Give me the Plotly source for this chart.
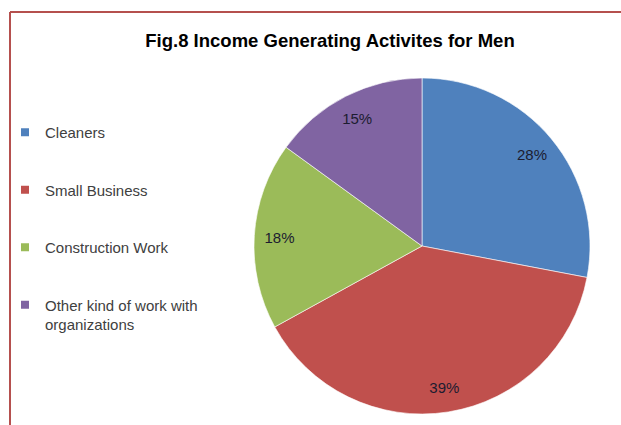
import plotly.graph_objects as go

# Income generating activities for men (percent shares)
categories = ["Cleaners", "Small Business", "Construction Work",
              "Other kind of work with organizations"]
legend_text = ["Cleaners", "Small Business", "Construction Work",
               "Other kind of work with<br>organizations"]
shares = [28, 39, 18, 15]
colors = ["#4F81BD", "#C0504D", "#9BBB59", "#8064A2"]

W, H = 621, 425
pie_domain = dict(x=[254 / W, 590 / W], y=[(H - 246 - 168) / H, (H - 246 + 168) / H])

fig = go.Figure()

# Filled pie slices
fig.add_trace(go.Pie(
    labels=categories,
    values=shares,
    sort=False,
    direction="clockwise",
    rotation=0,
    marker=dict(colors=colors, line=dict(color="rgba(255,255,255,0.6)", width=1)),
    textinfo="none",
    domain=pie_domain,
    showlegend=False,
    hoverinfo="label+percent",
))

# Transparent ring on top carrying the percentage labels near the rim
fig.add_trace(go.Pie(
    labels=categories,
    values=shares,
    sort=False,
    direction="clockwise",
    rotation=0,
    hole=0.7,
    marker=dict(colors=["rgba(0,0,0,0)"] * len(shares), line=dict(width=0)),
    texttemplate="%{percent:.0%}",
    textposition="inside",
    insidetextorientation="horizontal",
    textfont=dict(family="Liberation Sans, Arial", size=15, color="#1c1c30"),
    domain=pie_domain,
    showlegend=False,
    hoverinfo="skip",
))

# Legend entries, one per category, with square swatches
for name, col in zip(legend_text, colors):
    fig.add_trace(go.Scatter(
        x=[None], y=[None], mode="markers", name=name,
        marker=dict(symbol="square", size=8, color=col),
        legendgroup=name,
    ))

fig.update_layout(
    width=W, height=H,
    margin=dict(l=0, r=0, t=0, b=0),
    paper_bgcolor="white",
    plot_bgcolor="white",
    xaxis=dict(visible=False),
    yaxis=dict(visible=False),
    title=dict(
        text="<b>Fig.8 Income Generating Activites for Men</b>",
        x=330 / W, xanchor="center",
        y=1 - 41 / H, yanchor="middle",
        font=dict(family="Liberation Sans, Arial", size=18.5, color="#000000"),
    ),
    legend=dict(
        x=5 / W, xanchor="left",
        y=1 - 116 / H, yanchor="top",
        tracegroupgap=35,
        valign="top",
        font=dict(family="Liberation Sans, Arial", size=15, color="#404040"),
        bgcolor="rgba(0,0,0,0)",
    ),
    shapes=[
        dict(type="line", xref="paper", yref="paper",
             x0=10 / W, x1=1, y0=1 - 12 / H, y1=1 - 12 / H,
             line=dict(color="#B5504E", width=2)),
        dict(type="line", xref="paper", yref="paper",
             x0=10 / W, x1=10 / W, y0=1 - 12 / H, y1=0,
             line=dict(color="#B5504E", width=2)),
    ],
)

fig.write_html("out.html")
